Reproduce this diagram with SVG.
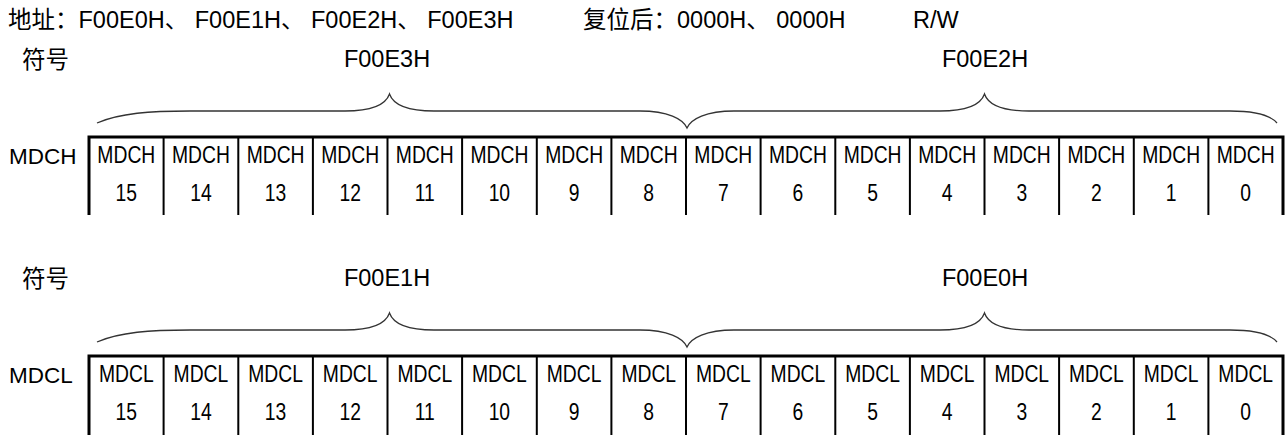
<svg xmlns="http://www.w3.org/2000/svg" width="1288" height="435" viewBox="0 0 1288 435">
<style>
text{font-family:"Liberation Sans","Noto Sans CJK SC",sans-serif;font-size:23.5px;fill:#000}
.lbl{font-size:22.5px}
.cell text{font-size:23px;text-anchor:middle}
.c{text-anchor:middle}
.brace{fill:none;stroke:#333;stroke-width:1.3}
.outer{fill:none;stroke:#000;stroke-width:3}
.div{stroke:#000;stroke-width:2}
</style>
<rect width="1288" height="435" fill="#fff"/>
<g id="header">
<text x="8" y="28">地址：F00E0H、 F00E1H、 F00E2H、 F00E3H</text>
<text x="583" y="28">复位后：0000H、 0000H</text>
<text x="913" y="28">R/W</text>
</g>
<g id="mdch">
<text x="22" y="68">符号</text>
<text class="c" x="387" y="67">F00E3H</text>
<text class="c" x="985" y="67">F00E2H</text>
<path class="brace" d="M97,123 C120,113 150,111 190,111 L345,111 C372,111 386,104 389.5,94 C393,104 407,111 434,111 L640,111 C668,111 683,119 687,128 C691,119 706,111 734,111 L940,111 C967,111 981,104 984.5,94 C988,104 1002,111 1029,111 L1230,111 C1258,111 1271,116 1277,123"/>
<text class="lbl" x="9" y="163.5">MDCH</text>
<path class="outer" d="M89,215V137H1283V215"/>
<path class="div" d="M163.6,137V215M238.3,137V215M312.9,137V215M387.5,137V215M462.1,137V215M536.8,137V215M611.4,137V215M686,137V215M760.6,137V215M835.3,137V215M909.9,137V215M984.5,137V215M1059.1,137V215M1133.8,137V215M1208.4,137V215"/>
<g class="cell" transform="scale(0.84 1)">
<text x="150.4" y="163.5">MDCH</text><text x="150.4" y="201.5">15</text>
<text x="239.2" y="163.5">MDCH</text><text x="239.2" y="201.5">14</text>
<text x="328.1" y="163.5">MDCH</text><text x="328.1" y="201.5">13</text>
<text x="416.9" y="163.5">MDCH</text><text x="416.9" y="201.5">12</text>
<text x="505.7" y="163.5">MDCH</text><text x="505.7" y="201.5">11</text>
<text x="594.5" y="163.5">MDCH</text><text x="594.5" y="201.5">10</text>
<text x="683.5" y="163.5">MDCH</text><text x="683.5" y="201.5">9</text>
<text x="772.3" y="163.5">MDCH</text><text x="772.3" y="201.5">8</text>
<text x="861.1" y="163.5">MDCH</text><text x="861.1" y="201.5">7</text>
<text x="949.9" y="163.5">MDCH</text><text x="949.9" y="201.5">6</text>
<text x="1038.8" y="163.5">MDCH</text><text x="1038.8" y="201.5">5</text>
<text x="1127.6" y="163.5">MDCH</text><text x="1127.6" y="201.5">4</text>
<text x="1216.4" y="163.5">MDCH</text><text x="1216.4" y="201.5">3</text>
<text x="1305.2" y="163.5">MDCH</text><text x="1305.2" y="201.5">2</text>
<text x="1394.2" y="163.5">MDCH</text><text x="1394.2" y="201.5">1</text>
<text x="1483" y="163.5">MDCH</text><text x="1483" y="201.5">0</text>
</g>
</g>
<g id="mdcl">
<text x="22" y="287">符号</text>
<text class="c" x="387" y="286">F00E1H</text>
<text class="c" x="985" y="286">F00E0H</text>
<path class="brace" d="M97,342 C120,332 150,330 190,330 L345,330 C372,330 386,323 389.5,313 C393,323 407,330 434,330 L640,330 C668,330 683,338 687,347 C691,338 706,330 734,330 L940,330 C967,330 981,323 984.5,313 C988,323 1002,330 1029,330 L1230,330 C1258,330 1271,335 1277,342"/>
<text class="lbl" x="9" y="382.5">MDCL</text>
<path class="outer" d="M89,440V356H1283V440"/>
<path class="div" d="M163.6,356V440M238.3,356V440M312.9,356V440M387.5,356V440M462.1,356V440M536.8,356V440M611.4,356V440M686,356V440M760.6,356V440M835.3,356V440M909.9,356V440M984.5,356V440M1059.1,356V440M1133.8,356V440M1208.4,356V440"/>
<g class="cell" transform="scale(0.84 1)">
<text x="150.4" y="382.5">MDCL</text><text x="150.4" y="420.5">15</text>
<text x="239.2" y="382.5">MDCL</text><text x="239.2" y="420.5">14</text>
<text x="328.1" y="382.5">MDCL</text><text x="328.1" y="420.5">13</text>
<text x="416.9" y="382.5">MDCL</text><text x="416.9" y="420.5">12</text>
<text x="505.7" y="382.5">MDCL</text><text x="505.7" y="420.5">11</text>
<text x="594.5" y="382.5">MDCL</text><text x="594.5" y="420.5">10</text>
<text x="683.5" y="382.5">MDCL</text><text x="683.5" y="420.5">9</text>
<text x="772.3" y="382.5">MDCL</text><text x="772.3" y="420.5">8</text>
<text x="861.1" y="382.5">MDCL</text><text x="861.1" y="420.5">7</text>
<text x="949.9" y="382.5">MDCL</text><text x="949.9" y="420.5">6</text>
<text x="1038.8" y="382.5">MDCL</text><text x="1038.8" y="420.5">5</text>
<text x="1127.6" y="382.5">MDCL</text><text x="1127.6" y="420.5">4</text>
<text x="1216.4" y="382.5">MDCL</text><text x="1216.4" y="420.5">3</text>
<text x="1305.2" y="382.5">MDCL</text><text x="1305.2" y="420.5">2</text>
<text x="1394.2" y="382.5">MDCL</text><text x="1394.2" y="420.5">1</text>
<text x="1483" y="382.5">MDCL</text><text x="1483" y="420.5">0</text>
</g>
</g>
</svg>
